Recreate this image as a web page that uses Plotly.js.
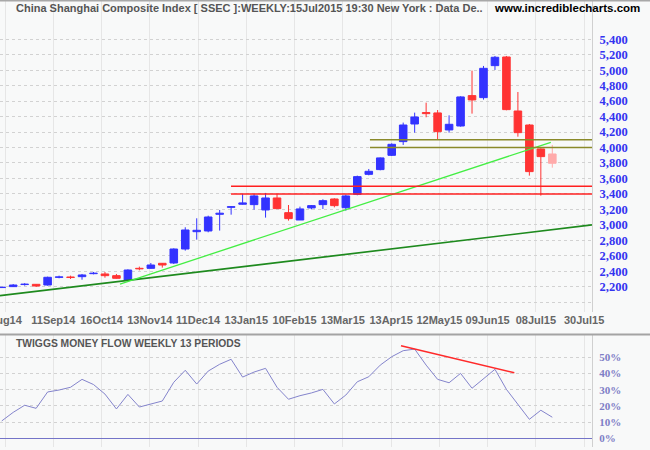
<!DOCTYPE html>
<html><head><meta charset="utf-8">
<script src="https://cdn.plot.ly/plotly-3.0.1.min.js"></script>
<style>html,body{margin:0;padding:0;background:#f8f9f9;overflow:hidden;}</style>
</head><body><div id="chart" style="width:650px;height:450px;"></div>
<script>
// Weekly OHLC, China Shanghai Composite (SSEC), Aug 2014 - 15 Jul 2015
const weekOpen  = [2188,2200,2227,2230,2221,2320,2325,2329,2368,2364,2342,2286,2437,2437,2502,2506,2687,2911,2920,3136,3226,3266,3261,3192,3347,3157,3062,3218,3261,3334,3221,3394,3653,3714,3899,4076,4304,4452,4447,4227,4278,4671,4645,5059,5171,4472,4291,3981,3916];
const weekHigh  = [2195,2234,2245,2232,2329,2342,2342,2364,2390,2390,2364,2424,2459,2506,2504,2696,2968,3084,3118,3192,3243,3400,3400,3412,3400,3256,3235,3256,3330,3343,3390,3636,3722,3870,4054,4322,4451,4580,4485,4416,4662,4994,5055,5184,5184,4718,4304,3990,4033];
const weekLow   = [2185,2196,2213,2196,2213,2308,2299,2290,2359,2316,2306,2278,2411,2433,2446,2493,2666,2808,2903,2925,3131,3262,3196,3093,3209,3054,3062,3200,3205,3226,3183,3382,3640,3705,3890,4033,4192,4391,4097,4192,4270,4438,4619,5003,4481,4140,3636,3377,3739];
const weekClose = [2193,2221,2233,2208,2321,2327,2318,2351,2375,2342,2308,2415,2430,2480,2480,2687,2933,2929,3101,3150,3235,3283,3373,3347,3209,3080,3205,3248,3312,3248,3373,3623,3692,3865,4041,4291,4395,4438,4205,4300,4654,4615,5024,5167,4490,4192,3688,3882,3796];
// Twiggs Money Flow (13 periods), %
const moneyFlow = [10.7,16,20.4,18.5,28.6,29.8,31.5,36.4,33.2,27.3,18.1,27.1,19.3,21.2,23,34.6,42,33.5,41.5,45.7,48.8,37.8,40.9,43.2,31.5,24.1,26.3,28,30.2,21.2,26.7,34.9,38,45.2,50.4,54.1,55.1,45.2,36.4,34.3,40.1,30.9,37,42.6,30.2,21.2,11.7,17.3,13];
// x-axis labels
const tickLabels = ['Aug14','11Sep14','16Oct14','13Nov14','11Dec14','13Jan15','10Feb15','13Mar15','13Apr15','12May15','09Jun15','08Jul15','30Jul15'];
const priceTicks = [2000,2200,2400,2600,2800,3000,3200,3400,3600,3800,4000,4200,4400,4600,4800,5000,5200,5400];
const mfTicks = [0,10,20,30,40,50];
// drawn lines (week index, value)
const longTrendY = [2083, 2998];            // dark green, across whole chart
const shortTrendX = [11.31, 48.87];
const shortTrendY = [2234, 4067];           // light green
const redLevels = [3400, 3500];
const redLevelStart = 20.99;
const oliveLevels = [4000, 4100];
const oliveLevelStart = 33.1;
const mfDivX = [35.81, 45.69];
const mfDivY = [57.2, 40.5];

const xRange = [0.85, 52.46];
const weekIdx = weekOpen.map((_, i) => i + 1);
const lastIdx = weekOpen.length - 1;
const BLUE = '#3333ff', RED = '#ff3333', PINK = '#ffaaaa';
const colorOf = i => i === lastIdx ? PINK : (weekClose[i] >= weekOpen[i] ? BLUE : RED);
const colors = weekOpen.map((_, i) => colorOf(i));

const traces = [];
// wicks grouped by colour
[BLUE, RED, PINK].forEach(c => {
  const wx = [], wy = [];
  weekIdx.forEach((x, i) => { if (colors[i] === c) { wx.push(x, x, null); wy.push(weekLow[i], weekHigh[i], null); } });
  traces.push({type:'scatter', mode:'lines', x:wx, y:wy, line:{color:c, width:1}, xaxis:'x', yaxis:'y', hoverinfo:'skip'});
});
// bodies
traces.push({
  type:'bar', x:weekIdx,
  y: weekIdx.map((_, i) => Math.abs(weekClose[i] - weekOpen[i])),
  base: weekIdx.map((_, i) => Math.min(weekClose[i], weekOpen[i])),
  width: 0.66,
  marker:{color:colors, line:{color:colors, width:1}},
  xaxis:'x', yaxis:'y', hoverinfo:'skip'
});
// trend lines
traces.push({type:'scatter', mode:'lines', x:xRange, y:longTrendY, line:{color:'#1e8a1e', width:1.7}, xaxis:'x', yaxis:'y'});
traces.push({type:'scatter', mode:'lines', x:shortTrendX, y:shortTrendY, line:{color:'#44ee44', width:1.3}, xaxis:'x', yaxis:'y'});
redLevels.forEach(v => traces.push({type:'scatter', mode:'lines', x:[redLevelStart, xRange[1]], y:[v, v], line:{color:'#ff2020', width:1.5}, xaxis:'x', yaxis:'y'}));
oliveLevels.forEach(v => traces.push({type:'scatter', mode:'lines', x:[oliveLevelStart, xRange[1]], y:[v, v], line:{color:'#8a8a2a', width:1.5}, xaxis:'x', yaxis:'y'}));
// money flow
traces.push({type:'scatter', mode:'lines', x:weekIdx, y:moneyFlow, line:{color:'#8484cc', width:1}, xaxis:'x2', yaxis:'y2'});
traces.push({type:'scatter', mode:'lines', x:mfDivX, y:mfDivY, line:{color:'#ff2a2a', width:1.5}, xaxis:'x2', yaxis:'y2'});

const tickVals = tickLabels.map((_, k) => 1.29 + 4.207 * k);
const PLOT_T = 1, PLOT_B = 447, PLOT_R = 592;
const py = p => (PLOT_B - p) / (PLOT_B - PLOT_T);
const px = p => p / PLOT_R;

const xCommon = {range:xRange, tickmode:'array', tickvals:tickVals, showgrid:true, gridcolor:'#e6e6e6', gridwidth:1,
  zeroline:false, showline:false, ticks:'', fixedrange:true};
const layout = {
  width:650, height:450,
  margin:{l:0, r:650-PLOT_R, t:PLOT_T, b:450-PLOT_B},
  paper_bgcolor:'#f8f9f9', plot_bgcolor:'#f8f9f9',
  showlegend:false, barmode:'overlay', bargap:0,
  xaxis: Object.assign({}, xCommon, {domain:[0,1], anchor:'y', ticktext:tickLabels, ticklabeloverflow:'allow',
    tickfont:{family:'Liberation Sans', size:11, color:'#666666', weight:'bold'}}),
  yaxis: {domain:[py(312), 1], range:[1872, 5895], side:'right', anchor:'x', tickmode:'array', tickvals:priceTicks,
    ticktext:priceTicks.map(v => v === 2000 ? '' : v.toLocaleString('en-US')),
    tickfont:{family:'Liberation Serif', size:12.5, color:'#3434f0', weight:'bold'},
    showgrid:true, gridcolor:'#d2d2d2', griddash:'dot', gridwidth:1, zeroline:false,
    showline:true, linecolor:'#d0d0d0', linewidth:1, ticks:'', ticklabelstandoff:4, fixedrange:true, automargin:false},
  xaxis2: Object.assign({}, xCommon, {domain:[0,1], anchor:'y2', showticklabels:false}),
  yaxis2: {domain:[0, py(335)], range:[-5.4, 63.8], side:'right', anchor:'x2', tickmode:'array', tickvals:mfTicks,
    ticktext:mfTicks.map(v => v + '%'),
    tickfont:{family:'Liberation Serif', size:11, color:'#7e7ec6', weight:'bold'},
    showgrid:true, gridcolor:'#d2d2d2', griddash:'dot', gridwidth:1,
    zeroline:true, zerolinecolor:'#7474c8', zerolinewidth:1.5,
    showline:true, linecolor:'#d0d0d0', linewidth:1, ticks:'', ticklabelstandoff:4, fixedrange:true, automargin:false},
  shapes:[
    {type:'line', xref:'paper', yref:'paper', x0:0, x1:650/PLOT_R, y0:py(0.5), y1:py(0.5), line:{color:'#a8a8a8', width:2}},
    {type:'line', xref:'paper', yref:'paper', x0:0, x1:650/PLOT_R, y0:py(334.5), y1:py(334.5), line:{color:'#a4a4a4', width:2}}
  ],
  annotations:[
    {xref:'paper', yref:'paper', x:px(14), y:py(8), xanchor:'left', yanchor:'middle', showarrow:false,
      text:'China Shanghai Composite Index [ SSEC ]:WEEKLY:15Jul2015 19:30 New York : Data De..',
      font:{family:'Liberation Sans', size:11, color:'#555555', weight:'bold'}},
    {xref:'paper', yref:'paper', x:px(492), y:py(8), xanchor:'left', yanchor:'middle', showarrow:false,
      text:'www.incrediblecharts.com', font:{family:'Liberation Sans', size:11.5, color:'#000000', weight:'bold'}},
    {xref:'paper', yref:'paper', x:px(14), y:py(343), xanchor:'left', yanchor:'middle', showarrow:false,
      text:'TWIGGS MONEY FLOW WEEKLY 13 PERIODS', font:{family:'Liberation Sans', size:10.3, color:'#555555', weight:'bold'}}
  ]
};
Plotly.newPlot('chart', traces, layout, {staticPlot:true, displayModeBar:false});
</script></body></html>
